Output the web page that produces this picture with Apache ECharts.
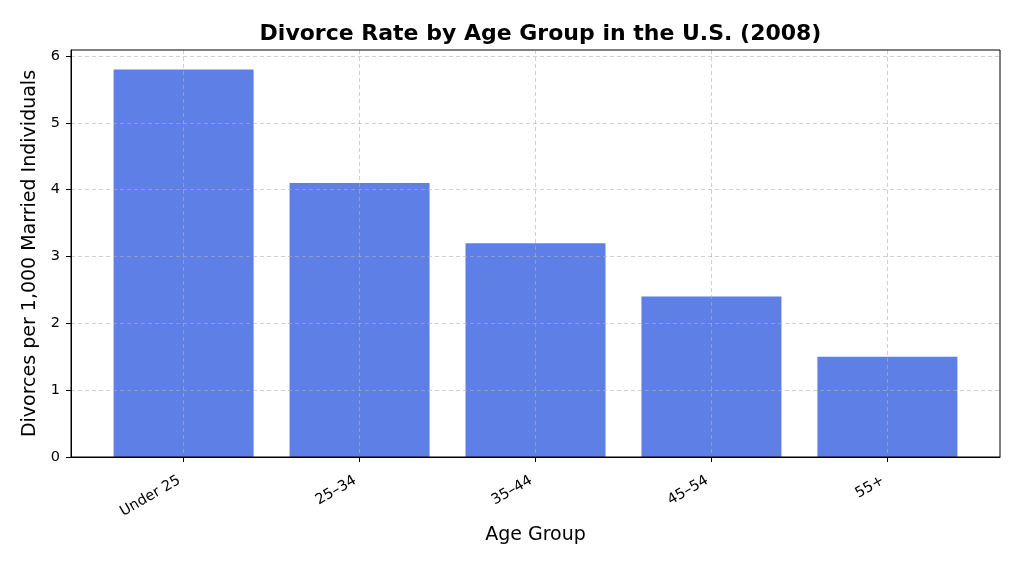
<!DOCTYPE html>
<html><head><meta charset="utf-8">
<script src="https://cdn.jsdelivr.net/npm/echarts@6/dist/echarts.min.js"></script>
<style>html,body{margin:0;padding:0;background:#fff}#c{width:1024px;height:569px}</style>
</head><body><div id="c"></div>
<script>
const categories = ['Under 25', '25–34', '35–44', '45–54', '55+'];
const rates = [5.8, 4.1, 3.2, 2.4, 1.5];
const yTicks = [0, 1, 2, 3, 4, 5, 6];
const xPositions = categories.map((c, i) => i);

const font = '"DejaVu Sans", sans-serif';
const gridColor = 'rgba(176,176,176,0.6)';
const chart = echarts.init(document.getElementById('c'));
chart.setOption({
  animation: false,
  backgroundColor: '#fff',
  title: {
    text: 'Divorce Rate by Age Group in the U.S. (2008)',
    left: 535.5, top: 18, textAlign: 'center',
    textStyle: { fontFamily: font, fontWeight: 'bold', fontSize: 22, color: '#000' }
  },
  grid: { left: 71, right: 24, top: 50, bottom: 112, show: true, borderColor: '#000', borderWidth: 1, backgroundColor: 'transparent', z: 10 },
  xAxis: {
    type: 'value', min: -0.64, max: 4.64, splitNumber: 5, z: 5,
    name: 'Age Group', nameLocation: 'middle', nameGap: 66,
    nameTextStyle: { fontFamily: font, fontSize: 19, color: '#000' },
    axisLine: { show: true, onZero: false, lineStyle: { color: '#000', width: 1 } },
    axisTick: { show: true, length: 5, lineStyle: { color: '#000' }, customValues: xPositions },
    axisLabel: { rotate: 30, fontFamily: font, fontSize: 14.5, color: '#000', margin: 20, padding: [0, 5, 0, 0],
      customValues: xPositions, formatter: v => categories[Math.round(v)] },
    splitLine: { show: true, lineStyle: { type: [4, 3], color: gridColor, width: 1 } }
  },
  yAxis: {
    type: 'value', min: 0, max: 6.09, interval: 1, z: 5,
    name: 'Divorces per 1,000 Married Individuals', nameLocation: 'middle', nameGap: 21,
    nameTextStyle: { fontFamily: font, fontSize: 19, color: '#000' },
    axisLine: { show: true, onZero: false, lineStyle: { color: '#000', width: 1 } },
    axisTick: { show: true, length: 5, lineStyle: { color: '#000' }, customValues: yTicks },
    axisLabel: { fontFamily: font, fontSize: 14.5, color: '#000', margin: 11, customValues: yTicks },
    splitLine: { show: true, lineStyle: { type: [4, 3], color: gridColor, width: 1 } }
  },
  series: [{
    type: 'bar', z: 2,
    data: rates.map((v, i) => [xPositions[i], v]),
    barWidth: 140,
    itemStyle: { color: '#5E7FE6' }
  }]
});
</script></body></html>
